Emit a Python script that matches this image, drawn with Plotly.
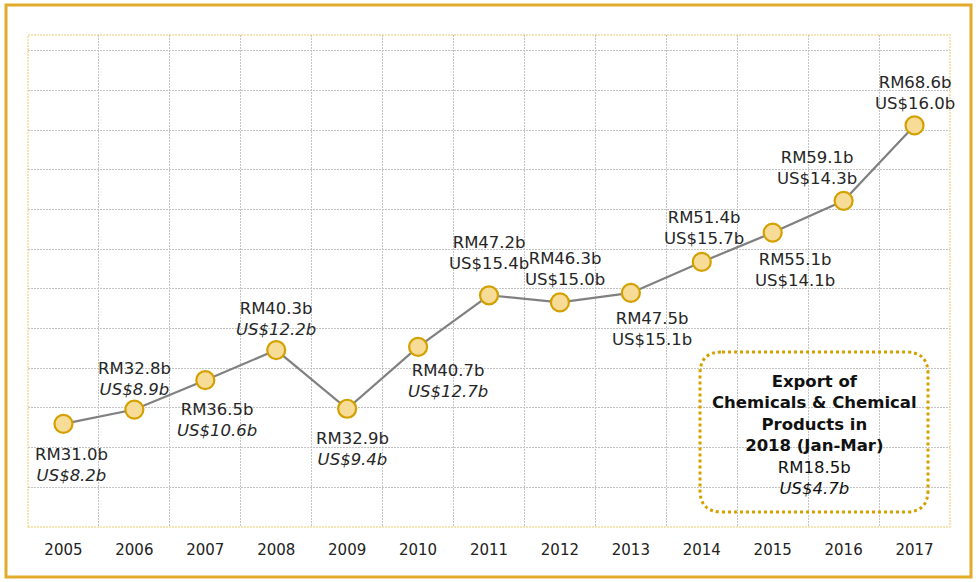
import plotly.graph_objects as go

years = ["2005", "2006", "2007", "2008", "2009", "2010", "2011",
         "2012", "2013", "2014", "2015", "2016", "2017"]
rm_values = [31.0, 32.8, 36.5, 40.3, 32.9, 40.7, 47.2, 46.3, 47.5, 51.4, 55.1, 59.1, 68.6]
us_values = [8.2, 8.9, 10.6, 12.2, 9.4, 12.7, 15.4, 15.0, 15.1, 15.7, 14.1, 14.3, 16.0]
us_italic = [True, True, True, True, True, True, False, False, False, False, False, False, False]

box_title = "Export of<br>Chemicals & Chemical<br>Products in<br>2018 (Jan-Mar)"
box_rm = 18.5
box_us = 4.7

# label offsets in pixels (xshift, yshift) — styling only
label_offsets = [(8, -41), (0, 31), (12, -40), (0, 31), (5, -40), (30, -34), (0, 42),
                 (5, 33), (21, -36), (2, 34), (22, -37), (-27, 33), (0, 32)]

FONT = "DejaVu Sans"
GOLD = "#D4A000"
W, H = 976, 582
L, R, T, B = 28, 26, 35, 55
pw, ph = W - L - R, H - T - B

fig = go.Figure()
fig.add_trace(go.Scatter(
    x=years, y=rm_values, mode="lines+markers",
    line=dict(color="#808080", width=2.2),
    marker=dict(size=18, color="#F6DC96", line=dict(color=GOLD, width=2.2)),
    hoverinfo="skip",
))

for i, (rm, us, it, (dx, dy)) in enumerate(zip(rm_values, us_values, us_italic, label_offsets)):
    us_txt = f"US${us:.1f}b"
    if it:
        us_txt = f"<i>{us_txt}</i>"
    fig.add_annotation(x=i, y=rm, text=f"RM{rm:.1f}b<br>{us_txt}", showarrow=False,
                       xshift=dx, yshift=dy, font=dict(family=FONT, size=16.5, color="#262626"),
                       xanchor="center", yanchor="middle")

# summary box text
bx = lambda px: (px - L) / pw
by = lambda py: 1 - (py - T) / ph
fig.add_annotation(xref="paper", yref="paper", x=bx(814), y=by(435),
                   text=f"<b>{box_title}</b><br>RM{box_rm:.1f}b<br><i>US${box_us:.1f}b</i>",
                   showarrow=False, xanchor="center", yanchor="middle",
                   font=dict(family=FONT, size=16.5, color="#111111"))

# rounded dotted box
x0, x1, y0, y1, r = 700, 928, 352, 512, 22
path = (f"M {bx(x0 + r)} {by(y0)} L {bx(x1 - r)} {by(y0)} Q {bx(x1)} {by(y0)} {bx(x1)} {by(y0 + r)} "
        f"L {bx(x1)} {by(y1 - r)} Q {bx(x1)} {by(y1)} {bx(x1 - r)} {by(y1)} "
        f"L {bx(x0 + r)} {by(y1)} Q {bx(x0)} {by(y1)} {bx(x0)} {by(y1 - r)} "
        f"L {bx(x0)} {by(y0 + r)} Q {bx(x0)} {by(y0)} {bx(x0 + r)} {by(y0)} Z")
fig.add_shape(type="path", xref="paper", yref="paper", path=path,
              line=dict(color=GOLD, width=3, dash="dot"), layer="above")

# plot area pale border
fig.add_shape(type="rect", xref="paper", yref="paper", x0=0, x1=1, y0=0, y1=1,
              line=dict(color="#F5DC9A", width=1.5, dash="2px,1px"), layer="below")
# outer gold frame
fig.add_shape(type="rect", xref="paper", yref="paper",
              x0=bx(6), x1=bx(971), y0=by(577), y1=by(5),
              line=dict(color="#E2AC2A", width=3), layer="below")

fig.update_layout(
    width=W, height=H,
    margin=dict(l=L, r=R, t=T, b=B, autoexpand=False),
    paper_bgcolor="white", plot_bgcolor="white",
    showlegend=False,
    font=dict(family=FONT, size=15, color="#222222"),
)
fig.update_xaxes(type="category", range=[-0.5, len(years) - 0.5], tickson="boundaries",
                 showgrid=True, gridcolor="#C4C4C4", griddash="2px,1px", gridwidth=1,
                 ticks="", ticklabelstandoff=12, showline=False, zeroline=False, tickangle=0,
                 tickfont=dict(family=FONT, size=15, color="#222222"))
fig.update_yaxes(range=[18, 80], tick0=18, dtick=5, showgrid=True,
                 gridcolor="#C4C4C4", griddash="2px,1px", gridwidth=1,
                 showticklabels=False, zeroline=False, showline=False)

fig.write_html("out.html", config={"displayModeBar": False},
               post_script="document.body.style.margin='0';document.body.style.overflow='hidden';")
